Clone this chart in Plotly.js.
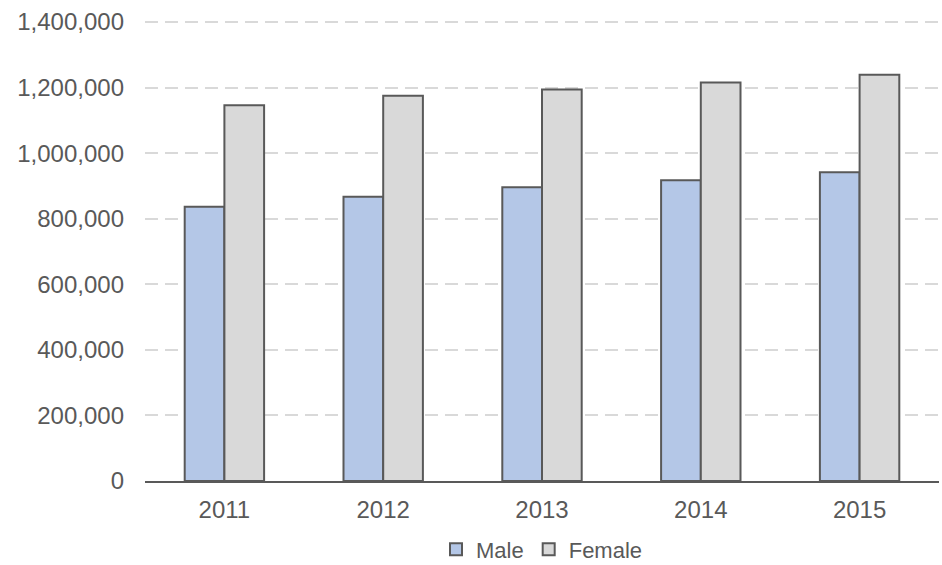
<!DOCTYPE html>
<html><head><meta charset="utf-8">
<script src="https://cdn.plot.ly/plotly-3.0.1.min.js"></script>
<style>html,body{margin:0;padding:0;background:#fff}#chart{width:942px;height:565px}</style>
</head><body><div id="chart"></div>
<script>
const years = ['2011','2012','2013','2014','2015'];
const male = [836500, 867000, 896000, 917000, 942000];
const female = [1146000, 1175000, 1194000, 1215000, 1239000];
const seriesNames = ['Male','Female'];

const font = {family:'Liberation Sans, Arial, sans-serif', size:24, color:'#595959'};
const legendFont = {family:'Liberation Sans, Arial, sans-serif', size:22, color:'#595959'};
const traces = [
  {type:'bar', name:seriesNames[0], x:years, y:male, marker:{color:'#b4c7e7', line:{color:'#595959', width:2}}},
  {type:'bar', name:seriesNames[1], x:years, y:female, marker:{color:'#d9d9d9', line:{color:'#595959', width:2}}}
];
const layout = {
  width:942, height:565,
  margin:{l:145, r:3, t:19, b:84, autoexpand:false},
  paper_bgcolor:'#fff', plot_bgcolor:'#fff',
  font:font,
  barmode:'group', bargap:0.5, bargroupgap:0,
  showlegend:true,
  legend:{orientation:'h', x:0.5, xanchor:'center', y:-0.148, yanchor:'middle', font:legendFont, itemwidth:30, tracegroupgap:0},
  xaxis:{type:'category', showgrid:false, showline:true, linecolor:'#595959', linewidth:2, ticks:'', tickfont:font, ticklabelstandoff:6, fixedrange:true},
  yaxis:{range:[0,1409000], tickvals:[0,200000,400000,600000,800000,1000000,1200000,1400000],
    ticktext:['0','200,000','400,000','600,000','800,000','1,000,000','1,200,000','1,400,000'],
    showgrid:true, gridcolor:'#d9d9d9', griddash:'13px,7px', gridwidth:2, zeroline:false, showline:false, ticks:'', tickfont:font, ticklabelstandoff:20}
};
Plotly.newPlot('chart', traces, layout, {displayModeBar:false, staticPlot:true});
</script></body></html>
